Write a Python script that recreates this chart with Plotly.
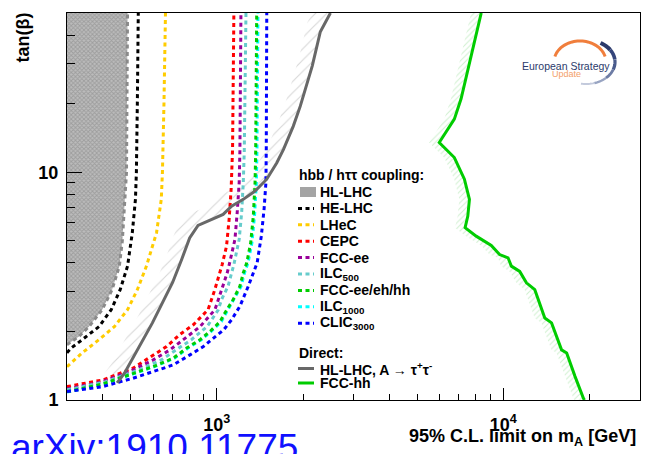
import numpy as np
import plotly.graph_objects as go

# ---------------------------------------------------------------------------
# Data: 95% C.L. limits on m_A [GeV] versus tan(beta)
# ---------------------------------------------------------------------------
# Indirect limits from hbb / htautau coupling measurements
HLLHC_MA   = [300, 330, 358, 398, 431, 457, 468, 476, 484, 488]
HLLHC_TANB = [1.75, 1.90, 2.10, 2.49, 3.05, 3.87, 5.0, 7.6, 10.0, 50.0]

HELHC_MA   = [300, 310, 339, 388, 428, 460, 488, 507, 520, 524, 528, 532]
HELHC_TANB = [1.61, 1.69, 1.84, 2.10, 2.49, 3.05, 3.87, 5.42, 7.6, 10.0, 20.0, 50.0]

LHEC_MA    = [300, 313, 339, 388, 439, 488, 528, 568, 616, 640, 646, 654, 662]
LHEC_TANB  = [1.40, 1.475, 1.61, 1.84, 2.10, 2.49, 3.05, 3.87, 5.42, 7.6, 10.0, 20.0, 50.0]

CEPC_MA    = [300, 400, 510, 600, 668, 741, 828, 932, 984, 1044, 1081, 1104, 1122, 1135, 1147]
CEPC_TANB  = [1.145, 1.225, 1.379, 1.578, 1.717, 1.934, 2.14, 2.49, 3.05, 3.93, 4.73, 6.21, 8.42, 12.6, 50.0]

FCCEE_MA   = [300, 310, 400, 510, 600, 686, 764, 874, 985, 1030, 1052, 1087, 1105, 1157, 1178, 1197, 1204, 1214]
FCCEE_TANB = [1.12, 1.126, 1.204, 1.356, 1.50, 1.66, 1.84, 2.10, 2.49, 2.95, 3.16, 3.61, 3.93, 5.07, 6.64, 9.0, 12.4, 50.0]

ILC500_MA   = [300, 315, 410, 535, 640, 725, 815, 925, 1012, 1039, 1095, 1126, 1147, 1197, 1221, 1237, 1247, 1264]
ILC500_TANB = [1.11, 1.12, 1.204, 1.356, 1.50, 1.66, 1.84, 2.10, 2.49, 2.76, 3.16, 3.61, 3.93, 5.07, 6.64, 9.0, 12.4, 50.0]

FCCALL_MA   = [300, 314, 400, 510, 600, 705, 785, 874, 947, 1027, 1067, 1141, 1204, 1237, 1272, 1313, 1341, 1360, 1367, 1378]
FCCALL_TANB = [1.09, 1.099, 1.176, 1.311, 1.402, 1.526, 1.69, 1.84, 2.00, 2.21, 2.41, 2.76, 3.16, 3.61, 4.00, 4.90, 6.42, 9.0, 12.4, 50.0]

ILC1000_MA   = [300, 318, 404, 515, 606, 712, 793, 883, 956, 1037, 1078, 1152, 1216, 1249, 1285, 1326, 1354, 1374, 1381, 1392]
ILC1000_TANB = [1.085, 1.099, 1.176, 1.311, 1.402, 1.526, 1.69, 1.84, 2.00, 2.21, 2.41, 2.76, 3.16, 3.61, 4.00, 4.90, 6.42, 9.0, 12.4, 50.0]

CLIC_MA    = [300, 318, 400, 510, 600, 705, 806, 898, 974, 1056, 1126, 1204, 1288, 1336, 1383, 1430, 1462, 1484, 1488, 1494]
CLIC_TANB  = [1.09, 1.099, 1.145, 1.246, 1.333, 1.426, 1.578, 1.717, 1.87, 2.03, 2.25, 2.58, 3.16, 3.60, 4.00, 5.24, 6.87, 9.0, 12.4, 50.0]

# Direct searches
DIRLHC_MA   = [449, 476, 596, 701, 754, 785, 804, 860, 945, 1052, 1126, 1237, 1360, 1494, 1620, 1709, 1848, 1956, 2154, 2298, 2492]
DIRLHC_TANB = [1.188, 1.311, 2.18, 3.28, 4.14, 4.80, 5.15, 5.84, 6.17, 6.53, 7.10, 7.60, 8.27, 9.32, 11.0, 12.6, 15.9, 19.5, 29.3, 41.4, 50.0]

FCCHH_MA   = [19200, 19040, 17794, 16640, 15973, 14738, 13958, 12879, 12042, 11408, 10667, 10387, 9705, 9078,
              8041, 7357, 7518, 7617, 7315, 6747, 5976, 6747, 7122, 7617, 8374]
FCCHH_TANB = [1.0, 1.017, 1.27, 1.61, 1.66, 2.18, 2.29, 3.05, 3.27, 3.67, 3.87, 4.21, 4.35, 4.77,
              5.24, 5.71, 6.42, 7.60, 9.32, 11.6, 13.5, 17.1, 21.0, 30.4, 50.0]

# Axis ticks
X_MAJOR = [1000, 10000]
X_MAJOR_TEXT = ["10<sup>3</sup>", "10<sup>4</sup>"]
X_MINOR = [400, 500, 600, 700, 800, 900, 2000, 3000, 4000, 5000, 6000, 7000, 8000, 9000, 20000, 30000]
Y_MAJOR = [1, 10]
Y_MAJOR_TEXT = ["1", "10"]
Y_MINOR = [2, 3, 4, 5, 6, 7, 8, 9, 20, 30, 40]

# ---------------------------------------------------------------------------
# Styling / layout
# ---------------------------------------------------------------------------
W, H = 647, 454
ML, MR, MT, MB = 67, 7, 13, 54
FONT = "Liberation Sans, Arial, sans-serif"
DOT = "4px,3.5px"

indirect = [
    ("HE-LHC", HELHC_MA, HELHC_TANB, "#000000"),
    ("LHeC", LHEC_MA, LHEC_TANB, "#ffcc00"),
    ("CEPC", CEPC_MA, CEPC_TANB, "#ff0000"),
    ("FCC-ee", FCCEE_MA, FCCEE_TANB, "#990099"),
    ("ILC<sub>500</sub>", ILC500_MA, ILC500_TANB, "#66cccc"),
    ("FCC-ee/eh/hh", FCCALL_MA, FCCALL_TANB, "#00cc00"),
    ("ILC<sub>1000</sub>", ILC1000_MA, ILC1000_TANB, "#00ffff"),
    ("CLIC<sub>3000</sub>", CLIC_MA, CLIC_TANB, "#0000ff"),
]
# drawing order: ILC1000 sits underneath the FCC-ee/eh/hh curve
draw_order = [0, 1, 2, 3, 4, 6, 5, 7]


def paper(px, py):
    """Convert pixel position in the page to paper coordinates."""
    return (px - ML) / (W - ML - MR), (H - MB - py) / (H - MT - MB)


fig = go.Figure()

# HL-LHC excluded region (patterned fill) and its dotted boundary
fig.add_trace(go.Scatter(
    x=HLLHC_MA + [HLLHC_MA[0]], y=HLLHC_TANB + [HLLHC_TANB[-1]],
    mode="lines", fill="toself", line=dict(width=0),
    fillcolor="#a8a8a8",
    fillpattern=dict(shape="x", size=3, solidity=0.5, fgcolor="#7e7e7e", bgcolor="#bcbcbc"),
    hoverinfo="skip", showlegend=False))
fig.add_trace(go.Scatter(
    x=HLLHC_MA, y=HLLHC_TANB, mode="lines",
    line=dict(color="#8a8a8a", width=3, dash=DOT), showlegend=False))

# Hatched bands on the excluded side of the direct-search limits
dir_ma = np.array(DIRLHC_MA, dtype=float)
dir_tb = np.array(DIRLHC_TANB, dtype=float)
fig.add_trace(go.Scatter(
    x=np.concatenate([dir_ma, (dir_ma / 1.11)[::-1]]),
    y=np.concatenate([dir_tb, (dir_tb * 1.10)[::-1]]),
    mode="lines", fill="toself", line=dict(width=0), fillcolor="rgba(0,0,0,0)",
    fillpattern=dict(shape="/", size=8, solidity=0.14, fgcolor="#b0b0b0", bgcolor="rgba(0,0,0,0)"),
    hoverinfo="skip", showlegend=False))

hh_ma = np.array(FCCHH_MA, dtype=float)
hh_tb = np.array(FCCHH_TANB, dtype=float)
fig.add_trace(go.Scatter(
    x=np.concatenate([hh_ma, (hh_ma / 1.085)[::-1]]),
    y=np.concatenate([hh_tb, hh_tb[::-1]]),
    mode="lines", fill="toself", line=dict(width=0), fillcolor="rgba(0,0,0,0)",
    fillpattern=dict(shape="/", size=4, solidity=0.25, fgcolor="#9ee09e", bgcolor="rgba(0,0,0,0)"),
    hoverinfo="skip", showlegend=False))

# Indirect (coupling) limits
for i in draw_order:
    name, xs, ys, col = indirect[i]
    fig.add_trace(go.Scatter(x=xs, y=ys, mode="lines", name=name,
                             line=dict(color=col, width=3, dash=DOT), showlegend=False))

# Direct-search limits
fig.add_trace(go.Scatter(x=DIRLHC_MA, y=DIRLHC_TANB, mode="lines",
                         line=dict(color="#686868", width=3), showlegend=False))
fig.add_trace(go.Scatter(x=FCCHH_MA, y=FCCHH_TANB, mode="lines",
                         line=dict(color="#00cc00", width=3), showlegend=False))

# ---------------------------------------------------------------------------
# Hand-built legend (compact ROOT-like spacing)
# ---------------------------------------------------------------------------
annotations = []
shapes = []
leg_font = dict(family=FONT, size=14, color="#000000", weight="bold")


def leg_text(text, px, py):
    x, y = paper(px, py)
    annotations.append(dict(text=text, x=x, y=y, xref="paper", yref="paper",
                            xanchor="left", yanchor="middle", showarrow=False,
                            font=leg_font))


def leg_line(py, color, dash, width=3):
    x0, y0 = paper(298, py)
    x1, _ = paper(314, py)
    shapes.append(dict(type="line", xref="paper", yref="paper", x0=x0, x1=x1, y0=y0, y1=y0,
                       line=dict(color=color, width=width, dash=dash)))


leg_text("hbb / hττ coupling:", 297, 175)
y_row = 192.0
step = 16.4
# HL-LHC box
bx0, by0 = paper(300, y_row + 5)
bx1, by1 = paper(316, y_row - 5)
shapes.append(dict(type="rect", xref="paper", yref="paper", x0=bx0, x1=bx1, y0=by0, y1=by1,
                   fillcolor="#a4a4a4", line=dict(width=0)))
leg_text("HL-LHC", 318, y_row)
for k, (name, _, _, col) in enumerate(indirect):
    yy = y_row + step * (k + 1)
    leg_line(yy, col, DOT)
    leg_text(name, 318, yy)

leg_text("Direct:", 297, 353)
leg_line(368.5, "#686868", "solid")
leg_text("HL-LHC, A → τ<sup>+</sup>τ<sup>-</sup>", 318, 368.5)
leg_line(383, "#00cc00", "solid")
leg_text("FCC-hh", 318, 383)

# ---------------------------------------------------------------------------
# Axis titles and captions
# ---------------------------------------------------------------------------
x, y = paper(638, 437)
annotations.append(dict(text="95% C.L. limit on m<sub>A</sub> [GeV]", x=x, y=y,
                        xref="paper", yref="paper", xanchor="right", yanchor="middle",
                        showarrow=False, font=dict(family=FONT, size=18, color="#000", weight="bold")))
x, y = paper(22, 37.5)
annotations.append(dict(text="tan(β)", x=x, y=y, xref="paper", yref="paper", textangle=-90,
                        xanchor="center", yanchor="middle", showarrow=False,
                        font=dict(family=FONT, size=18, color="#000", weight="bold")))
x, y = paper(9, 425)
annotations.append(dict(text="arXiv:1910.11775", x=x, y=y, xref="paper", yref="paper",
                        xanchor="left", yanchor="top", showarrow=False,
                        font=dict(family=FONT, size=37, color="#1010ff")))

# European Strategy Update logo
x, y = paper(566, 66)
annotations.append(dict(text="European Strategy", x=x, y=y, xref="paper", yref="paper",
                        xanchor="center", yanchor="middle", showarrow=False,
                        font=dict(family=FONT, size=10.5, color="#2b3a6b")))
x, y = paper(566, 74.5)
annotations.append(dict(text="Update", x=x, y=y, xref="paper", yref="paper",
                        xanchor="center", yanchor="middle", showarrow=False,
                        font=dict(family=FONT, size=9, color="#f3a06a")))


def arc_path(cx, cy, rx, ry, a0, a1, n=40):
    ang = np.radians(np.linspace(a0, a1, n))
    pts = [paper(cx + rx * np.cos(a), cy - ry * np.sin(a)) for a in ang]
    return "M " + " L ".join(f"{p[0]:.5f},{p[1]:.5f}" for p in pts)


shapes.append(dict(type="path", xref="paper", yref="paper",
                   path=arc_path(580, 62, 26, 21, 165, 15), line=dict(color="#f07e3c", width=3)))
navy_steps = ["#2b3a6b", "#34457a", "#4a5b8c", "#6d7ca5", "#98a4c2", "#c3cadc"]
seg = np.linspace(60, -100, len(navy_steps) + 1)
for j, col in enumerate(navy_steps):
    shapes.append(dict(type="path", xref="paper", yref="paper",
                       path=arc_path(586, 62, 29, 22, seg[j], seg[j + 1], n=10),
                       line=dict(color=col, width=4 - 0.4 * j)))

tick_font = dict(family=FONT, size=18, color="#000", weight="bold")
fig.update_layout(
    width=W, height=H,
    margin=dict(l=ML, r=MR, t=MT, b=MB, pad=0),
    paper_bgcolor="white", plot_bgcolor="white",
    showlegend=False,
    annotations=annotations, shapes=shapes,
    xaxis=dict(type="log", range=[np.log10(300), np.log10(30000)],
               tickmode="array", tickvals=X_MAJOR, ticktext=X_MAJOR_TEXT,
               ticks="inside", ticklen=12, tickwidth=1, tickcolor="#000",
               minor=dict(tickmode="array", tickvals=X_MINOR, ticks="inside", ticklen=6,
                          tickwidth=1, tickcolor="#000", showgrid=False),
               showgrid=False, zeroline=False, showline=True, linecolor="#000", linewidth=1,
               mirror=True, tickfont=tick_font, ticklabelstandoff=8),
    yaxis=dict(type="log", range=[0, np.log10(50)],
               tickmode="array", tickvals=Y_MAJOR, ticktext=Y_MAJOR_TEXT,
               ticks="inside", ticklen=15, tickwidth=1, tickcolor="#000",
               minor=dict(tickmode="array", tickvals=Y_MINOR, ticks="inside", ticklen=8,
                          tickwidth=1, tickcolor="#000", showgrid=False),
               showgrid=False, zeroline=False, showline=True, linecolor="#000", linewidth=1,
               mirror=True, tickfont=tick_font, ticklabelstandoff=4),
)

fig.write_html("out.html")
